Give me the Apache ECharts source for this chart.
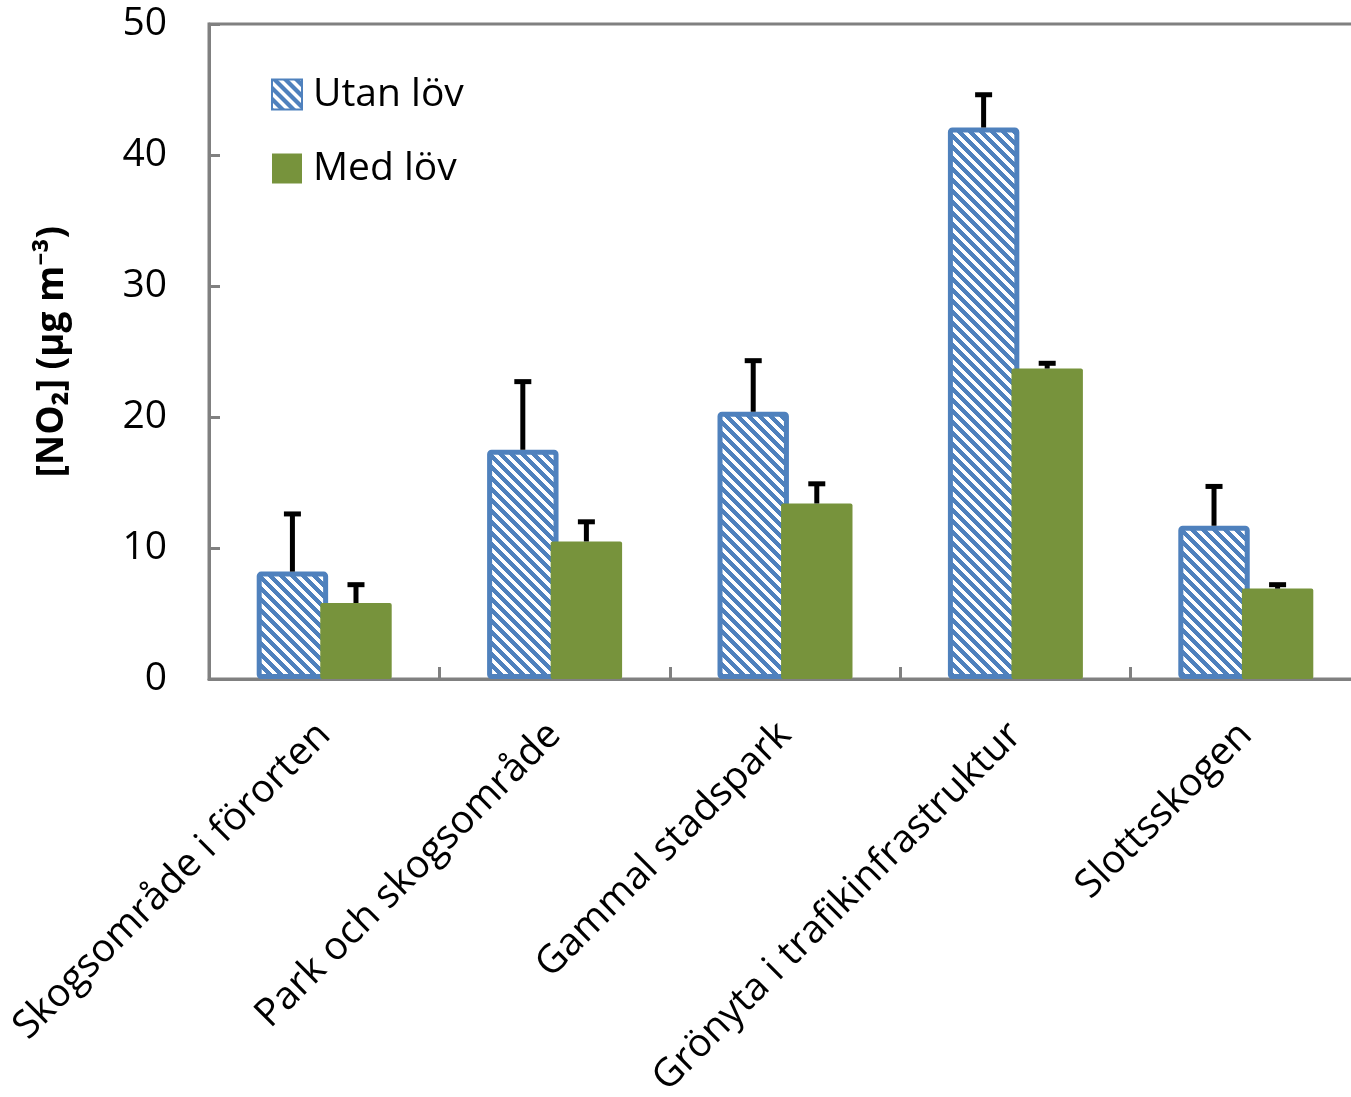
<!DOCTYPE html>
<html><head><meta charset="utf-8">
<script src="https://cdn.jsdelivr.net/npm/echarts@6/dist/echarts.min.js"></script>
<style>html,body{margin:0;padding:0;background:#fff}#c{width:1351px;height:1097px}</style>
</head><body><div id="c"></div>
<script>
const categories = ['Skogsområde i förorten','Park och skogsområde','Gammal stadspark','Grönyta i trafikinfrastruktur','Slottsskogen'];
const utanLov = [8.2, 17.5, 20.4, 42.1, 11.7];
const utanErr = [4.4, 5.2, 3.9, 2.5, 3.0];
const medLov = [5.8, 10.5, 13.4, 23.7, 6.9];
const medErr = [1.4, 1.5, 1.5, 0.4, 0.3];
const yTicks = [0, 10, 20, 30, 40, 50];
const seriesNames = ['Utan löv', 'Med löv'];

const BLUE = '#4F81BD', GREEN = '#77933C', GRAY = '#808080';
const FONT = '"Open Sans", "Noto Sans", sans-serif';

// diagonal stripe pattern
const P = 11;
const pc = document.createElement('canvas');
pc.width = P; pc.height = P;
const pctx = pc.getContext('2d');
pctx.fillStyle = '#fff'; pctx.fillRect(0,0,P,P);
pctx.fillStyle = BLUE;
for (let y = 0; y < P; y++) for (let x = 0; x < P; x++) {
  if (((x - y + 2*P) % P) < 6) pctx.fillRect(x, y, 1, 1);
}
const stripe = {image: pc, repeat: 'repeat'};

const BAR_W = 0.31, BAR_GAP = -0.11;
function errItem(sign) {
  return function (params, api) {
    const i = api.value(0);
    const base = api.coord([i, api.value(1)]);
    const top = api.coord([i, api.value(1) + api.value(2)]);
    const bw = api.size([1, 0])[0];
    const off = bw * BAR_W * (1 + BAR_GAP) / 2 * sign;
    const x = base[0] + off;
    return {type: 'group', children: [
      {type: 'line', shape: {x1: x, y1: base[1], x2: x, y2: top[1]}, style: {stroke: '#000', lineWidth: 5}},
      {type: 'line', shape: {x1: x - 8.5, y1: top[1], x2: x + 8.5, y2: top[1]}, style: {stroke: '#000', lineWidth: 5}}
    ]};
  };
}

const chart = echarts.init(document.getElementById('c'));
chart.setOption({
  animation: false,
  textStyle: {fontFamily: FONT},
  grid: {left: 209, top: 24, height: 655, width: 1152, show: true, borderColor: GRAY, borderWidth: 3,
         containLabel: false, outerBoundsMode: 'none'},
  legend: {
    orient: 'vertical', left: 266, top: 70, itemWidth: 30, itemHeight: 30, itemGap: 35,
    icon: 'rect',
    data: seriesNames,
    textStyle: {fontSize: 39, color: '#000', fontFamily: FONT, lineHeight: 30, padding: [0,0,0,6]}
  },
  xAxis: {
    type: 'category', data: categories,
    axisLine: {lineStyle: {color: GRAY, width: 3}},
    axisTick: {show: true, inside: true, length: 12, lineStyle: {color: GRAY, width: 3}},
    axisLabel: {rotate: 45, fontSize: 39, color: '#000', margin: 50, interval: 0, fontFamily: FONT}
  },
  yAxis: {
    type: 'value', min: 0, max: 50, interval: 10,
    name: '[NO₂] (µg m⁻³)', nameLocation: 'middle', nameGap: 138,
    nameTextStyle: {fontSize: 37, fontWeight: 'bold', color: '#000', fontFamily: FONT},
    axisLine: {show: true, lineStyle: {color: GRAY, width: 3}},
    axisTick: {show: true, inside: true, length: 11, lineStyle: {color: GRAY, width: 3}},
    splitLine: {show: false},
    axisLabel: {fontSize: 39, color: '#000', margin: 42, fontFamily: FONT,
      formatter: v => yTicks.indexOf(v) >= 0 ? String(v) : ''}
  },
  series: [
    {name: seriesNames[0], type: 'bar', data: utanLov, barWidth: (BAR_W*100)+'%', barGap: (BAR_GAP*100)+'%',
     itemStyle: {color: stripe, borderColor: BLUE, borderWidth: 5, borderRadius: 2}, z: 2},
    {name: seriesNames[1], type: 'bar', data: medLov, barWidth: (BAR_W*100)+'%',
     itemStyle: {color: GREEN, borderRadius: 2}, z: 3},
    {type: 'custom', data: utanLov.map((v,i)=>[i, v, utanErr[i]]), renderItem: errItem(-1), z: 5, encode: {x: 0, y: 1}},
    {type: 'custom', data: medLov.map((v,i)=>[i, v, medErr[i]]), renderItem: errItem(1), z: 5, encode: {x: 0, y: 1}}
  ]
});
</script></body></html>
